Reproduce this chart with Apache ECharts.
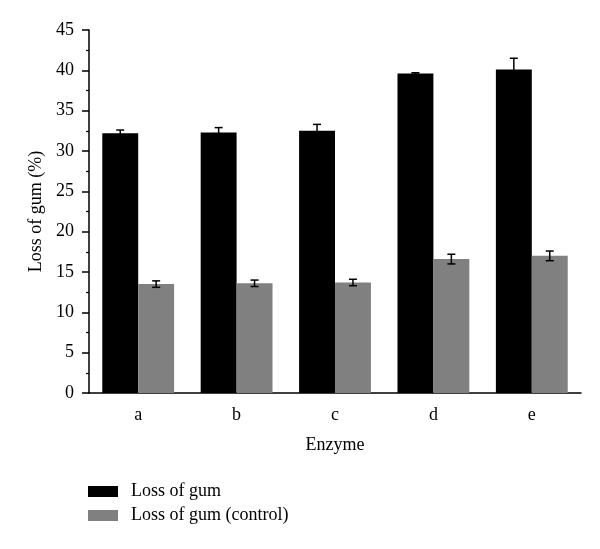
<!DOCTYPE html>
<html>
<head>
<meta charset="utf-8">
<script src="https://cdn.jsdelivr.net/npm/echarts@6/dist/echarts.min.js"></script>
<style>html,body{margin:0;padding:0;background:#fff}#c{width:600px;height:549px}</style>
</head>
<body>
<div id="c"></div>
<script>
const categories = ['a', 'b', 'c', 'd', 'e'];
const lossOfGum = [32.2, 32.3, 32.5, 39.6, 40.1];
const lossOfGumErr = [0.4, 0.6, 0.8, 0.1, 1.4];
const lossOfGumControl = [13.5, 13.6, 13.7, 16.6, 17.0];
const lossOfGumControlErr = [0.4, 0.4, 0.4, 0.6, 0.6];
const yTicks = { min: 0, max: 45, interval: 5 };

const FONT = 'Liberation Serif';
const FS = 18;
const CAT_GAP = 0.27;

function errData(vals, errs) {
  return vals.map((v, i) => [i, v - errs[i], v + errs[i]]);
}
function makeErrRender(side) {
  return function (params, api) {
    const i = api.value(0);
    const lo = api.coord([i, api.value(1)]);
    const hi = api.coord([i, api.value(2)]);
    const band = api.size([1, 0])[0];
    const bw = band * (1 - CAT_GAP) / 2;
    const x = lo[0] + side * bw / 2;
    const cap = 4;
    const style = { stroke: '#000', lineWidth: 1.5 };
    return {
      type: 'group',
      children: [
        { type: 'line', shape: { x1: x, y1: lo[1], x2: x, y2: hi[1] }, style },
        { type: 'line', shape: { x1: x - cap, y1: hi[1], x2: x + cap, y2: hi[1] }, style },
        { type: 'line', shape: { x1: x - cap, y1: lo[1], x2: x + cap, y2: lo[1] }, style }
      ]
    };
  };
}

const chart = echarts.init(document.getElementById('c'), null, { renderer: 'canvas' });
chart.setOption({
  animation: false,
  backgroundColor: '#fff',
  textStyle: { fontFamily: FONT },
  grid: { left: 89, right: 19, top: 30, bottom: 156, containLabel: false },
  legend: {
    orient: 'vertical',
    left: 88,
    top: 482,
    padding: 0,
    itemWidth: 30,
    itemHeight: 11,
    itemGap: 5,
    icon: 'rect',
    data: ['Loss of gum', 'Loss of gum (control)'],
    textStyle: { fontFamily: FONT, fontSize: FS, color: '#000', lineHeight: 19, padding: [0, 0, 0, 8] }
  },
  xAxis: [{
    type: 'category',
    data: categories,
    name: 'Enzyme',
    nameLocation: 'middle',
    nameGap: 43,
    nameTextStyle: { fontFamily: FONT, fontSize: FS, color: '#000' },
    axisLine: { lineStyle: { color: '#000', width: 1.5 } },
    axisTick: { alignWithLabel: true, length: 6, lineStyle: { color: '#000', width: 1.5 } },
    axisLabel: { fontFamily: FONT, fontSize: FS, color: '#000', margin: 13 },
    splitLine: { show: false }
  }, {
    type: 'category',
    data: categories,
    position: 'bottom',
    axisLine: { show: false },
    axisTick: { inside: true, length: 3, lineStyle: { color: '#000', width: 1.2 } },
    axisLabel: { show: false },
    splitLine: { show: false }
  }],
  yAxis: {
    type: 'value',
    min: yTicks.min,
    max: yTicks.max,
    interval: yTicks.interval,
    name: 'Loss of gum (%)',
    nameLocation: 'middle',
    nameGap: 44,
    nameTextStyle: { fontFamily: FONT, fontSize: FS, color: '#000' },
    axisLine: { show: true, lineStyle: { color: '#000', width: 1.5 } },
    axisTick: { show: true, length: 7, lineStyle: { color: '#000', width: 1.5 } },
    minorTick: { show: true, splitNumber: 2, length: 3, lineStyle: { color: '#000', width: 1.2 } },
    axisLabel: { fontFamily: FONT, fontSize: FS, color: '#000', margin: 15 },
    splitLine: { show: false },
    minorSplitLine: { show: false }
  },
  series: [
    {
      name: 'Loss of gum',
      type: 'bar',
      data: lossOfGum,
      barGap: '0%',
      barCategoryGap: (CAT_GAP * 100) + '%',
      itemStyle: { color: '#000' },
      z: 2
    },
    {
      name: 'Loss of gum (control)',
      type: 'bar',
      data: lossOfGumControl,
      barGap: '0%',
      barCategoryGap: (CAT_GAP * 100) + '%',
      itemStyle: { color: '#808080' },
      z: 2
    },
    {
      type: 'custom',
      renderItem: makeErrRender(-1),
      data: errData(lossOfGum, lossOfGumErr),
      encode: { x: 0, y: [1, 2] },
      z: 3,
      silent: true
    },
    {
      type: 'custom',
      renderItem: makeErrRender(1),
      data: errData(lossOfGumControl, lossOfGumControlErr),
      encode: { x: 0, y: [1, 2] },
      z: 3,
      silent: true
    }
  ]
});
</script>
</body>
</html>
